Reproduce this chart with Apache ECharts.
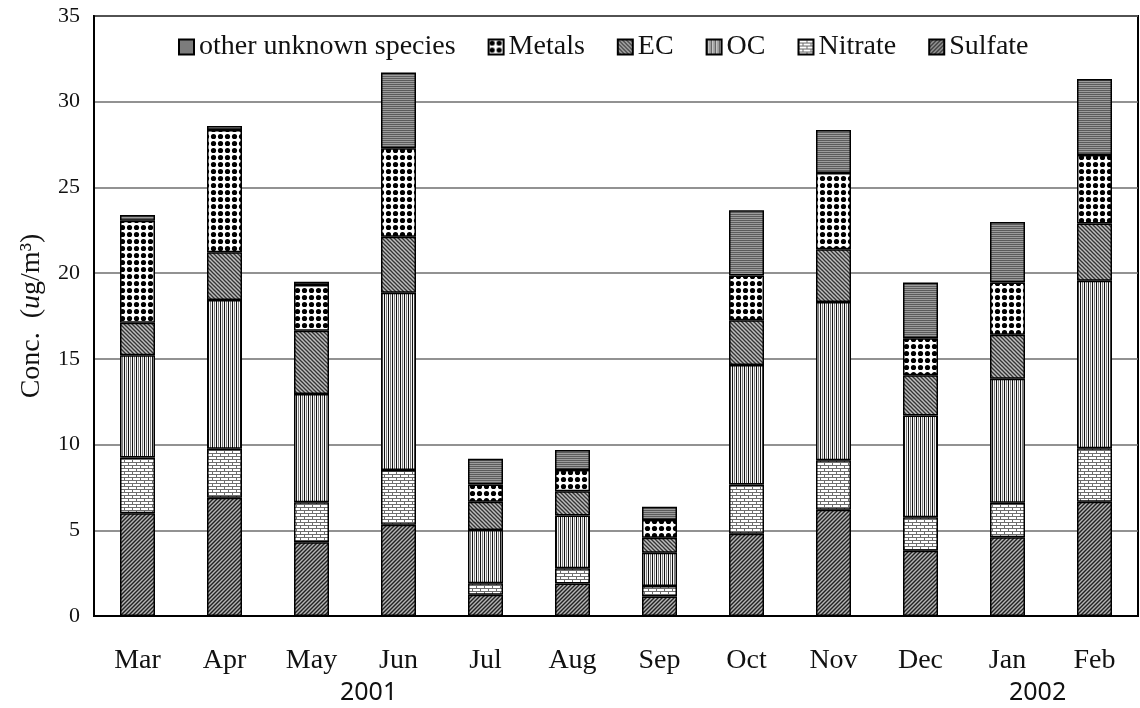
<!DOCTYPE html>
<html>
<head>
<meta charset="utf-8">
<script src="https://cdn.jsdelivr.net/npm/echarts@6/dist/echarts.min.js"></script>
<style>
  html, body { margin: 0; padding: 0; background: #fff; }
  #chart { width: 1140px; height: 708px; }
</style>
</head>
<body>
<div id="chart"></div>
<script>
// Monthly mean PM composition, Mar 2001 - Feb 2002 (ug/m3)
const months = ['Mar', 'Apr', 'May', 'Jun', 'Jul', 'Aug', 'Sep', 'Oct', 'Nov', 'Dec', 'Jan', 'Feb'];
const sulfate = [6.00, 6.90, 4.30, 5.32, 1.24, 1.89, 1.14, 4.80, 6.20, 3.80, 4.60, 6.67];
const nitrate = [3.24, 2.86, 2.33, 3.19, 0.67, 0.90, 0.61, 2.87, 2.88, 1.96, 2.01, 3.11];
const oc      = [5.97, 8.67, 6.32, 10.35, 3.11, 3.07, 1.94, 6.97, 9.23, 5.93, 7.23, 9.78];
const ec      = [1.90, 2.79, 3.69, 3.27, 1.65, 1.41, 0.87, 2.61, 3.08, 2.35, 2.57, 3.33];
const metals  = [5.95, 7.13, 2.67, 5.15, 1.00, 1.24, 1.04, 2.61, 4.45, 2.16, 3.05, 4.00];
const other   = [0.33, 0.23, 0.19, 4.43, 1.51, 1.17, 0.77, 3.81, 2.51, 3.26, 3.53, 4.43];
const yTicks  = [0, 5, 10, 15, 20, 25, 30, 35];
const yearLabels = ['2001', '2002'];

// Hatch fills drawn on small tiles and repeated inside each bar segment
function tile(w, h, draw) {
  const c = document.createElement('canvas');
  c.width = w; c.height = h;
  const g = c.getContext('2d');
  draw(g, w, h);
  return { image: c, repeat: 'repeat' };
}
const fills = {
  sulfate: tile(4, 4, (g, w, h) => {
    g.fillStyle = '#b4b4b4'; g.fillRect(0, 0, w, h);
    g.strokeStyle = '#222222'; g.lineWidth = 1.4;
    [[0, 4, 4, 0], [-1, 1, 1, -1], [3, 5, 5, 3]].forEach(l => {
      g.beginPath(); g.moveTo(l[0], l[1]); g.lineTo(l[2], l[3]); g.stroke();
    });
  }),
  ec: tile(4, 4, (g, w, h) => {
    g.fillStyle = '#bdbdbd'; g.fillRect(0, 0, w, h);
    g.strokeStyle = '#333333'; g.lineWidth = 1.3;
    [[0, 0, 4, 4], [-1, 3, 1, 5], [3, -1, 5, 1]].forEach(l => {
      g.beginPath(); g.moveTo(l[0], l[1]); g.lineTo(l[2], l[3]); g.stroke();
    });
  }),
  oc: tile(4, 2, (g, w, h) => {
    g.fillStyle = '#f4f4f4'; g.fillRect(0, 0, w, h);
    g.fillStyle = '#111111'; g.fillRect(0, 0, 1, h);
    g.fillStyle = '#7a7a7a'; g.fillRect(2, 0, 1, h);
  }),
  nitrate: tile(8, 6, (g, w, h) => {
    g.fillStyle = '#ffffff'; g.fillRect(0, 0, w, h);
    g.fillStyle = '#6e6e6e';
    g.fillRect(0, 0, w, 1); g.fillRect(0, 3, w, 1);
    g.fillRect(0, 0, 1, 3); g.fillRect(4, 3, 1, 3);
  }),
  metals: tile(7, 7, (g, w, h) => {
    g.fillStyle = '#ffffff'; g.fillRect(0, 0, w, h);
    g.fillStyle = '#000000';
    g.beginPath(); g.arc(3.5, 3.5, 2.6, 0, Math.PI * 2); g.fill();
  }),
  other: tile(2, 2, (g, w, h) => {
    g.fillStyle = '#9c9c9c'; g.fillRect(0, 0, w, h);
    g.fillStyle = '#5c5c5c'; g.fillRect(0, 0, w, 1);
  })
};

function segment(name, data, fill) {
  return {
    name: name,
    type: 'bar',
    stack: 'total',
    data: data,
    barWidth: 35,
    itemStyle: { color: fill, borderColor: '#000', borderWidth: 1.5 },
    emphasis: { disabled: true }
  };
}

const chart = echarts.init(document.getElementById('chart'), null, { renderer: 'canvas' });
const serif = 'Liberation Serif, Times New Roman, serif';

chart.setOption({
  animation: false,
  backgroundColor: '#ffffff',
  grid: {
    left: 94, right: 2, top: 16, bottom: 92,
    show: true, borderColor: '#000', borderWidth: 2, backgroundColor: 'transparent'
  },
  legend: {
    data: ['other unknown species', 'Metals', 'EC', 'OC', 'Nitrate', 'Sulfate'],
    top: 28, left: 173,
    itemWidth: 15, itemHeight: 15, itemGap: 32,
    icon: 'rect',
    textStyle: { fontFamily: serif, fontSize: 28, color: '#111' }
  },
  xAxis: {
    type: 'category',
    data: months,
    axisLine: { lineStyle: { color: '#000', width: 2 } },
    axisTick: { inside: true, length: 9, lineStyle: { color: '#000', width: 1.5 } },
    axisLabel: { fontFamily: serif, fontSize: 28, color: '#111', margin: 31 }
  },
  yAxis: {
    type: 'value',
    min: yTicks[0], max: yTicks[yTicks.length - 1], interval: 5,
    name: '{n|Conc.  (}{i|u}{n|g/m³)}',
    nameLocation: 'middle', nameGap: 48, nameRotate: 90,
    nameTextStyle: {
      rich: {
        n: { fontFamily: serif, fontSize: 28, color: '#111' },
        i: { fontFamily: serif, fontSize: 28, fontStyle: 'italic', color: '#111' }
      }
    },
    axisLine: { show: true, lineStyle: { color: '#000', width: 2 } },
    axisTick: { show: false },
    axisLabel: { fontFamily: serif, fontSize: 22, color: '#111', margin: 14 },
    splitLine: { lineStyle: { color: '#6e6e6e', width: 1.5 } }
  },
  graphic: [
    { type: 'text', left: 340, top: 680, style: { text: yearLabels[0], font: '25px "Noto Sans", sans-serif', fill: '#111' } },
    { type: 'text', left: 1009, top: 680, style: { text: yearLabels[1], font: '25px "Noto Sans", sans-serif', fill: '#111' } }
  ],
  series: [
    segment('Sulfate', sulfate, fills.sulfate),
    segment('Nitrate', nitrate, fills.nitrate),
    segment('OC', oc, fills.oc),
    segment('EC', ec, fills.ec),
    segment('Metals', metals, fills.metals),
    segment('other unknown species', other, fills.other)
  ]
});
</script>
</body>
</html>
